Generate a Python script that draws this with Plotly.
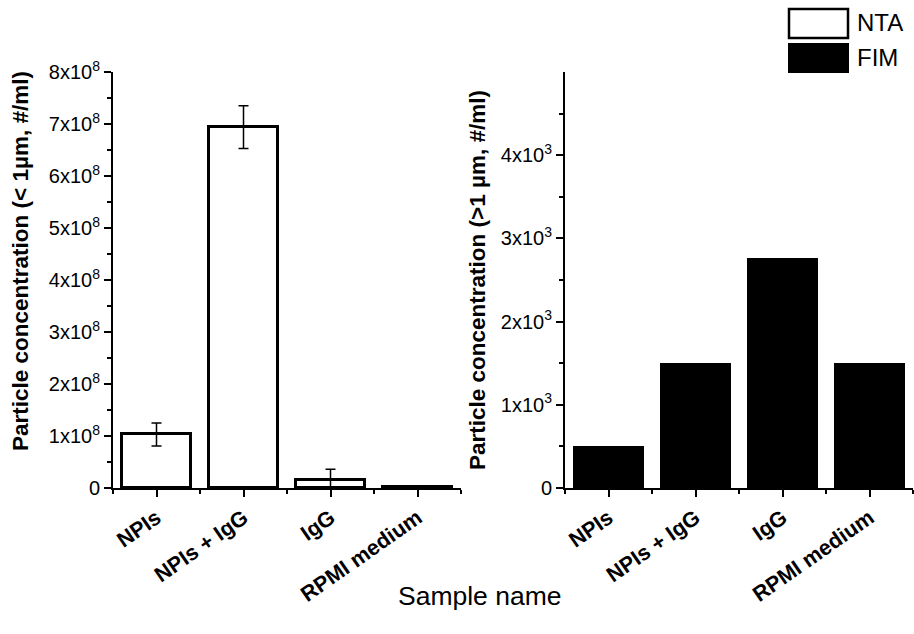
import plotly.graph_objects as go

categories = ["NPIs", "NPIs + IgG", "IgG", "RPMI medium"]
nta_values = [1.03e8, 6.94e8, 0.16e8, 0.02e8]
nta_errors = [0.22e8, 0.41e8, 0.20e8, 0.005e8]
fim_values = [500, 1500, 2770, 1500]

left_tickvals = [0, 1e8, 2e8, 3e8, 4e8, 5e8, 6e8, 7e8, 8e8]
left_ticktext = ["0"] + [f"{i}x10<sup>8</sup>" for i in range(1, 9)]
right_tickvals = [0, 1000, 2000, 3000, 4000]
right_ticktext = ["0"] + [f"{i}x10<sup>3</sup>" for i in range(1, 5)]

FONT = "Liberation Sans, Arial, sans-serif"
W, H = 914, 634
xpos = list(range(len(categories)))

fig = go.Figure()
fig.add_trace(go.Bar(
    x=xpos, y=nta_values, width=0.8, xaxis="x", yaxis="y",
    marker=dict(color="white", line=dict(color="black", width=3)),
    error_y=dict(type="data", array=nta_errors, visible=True, color="black", thickness=1.5, width=5),
    showlegend=False, name="NTA"))
fig.add_trace(go.Bar(
    x=xpos, y=fim_values, width=0.81, xaxis="x2", yaxis="y2",
    marker=dict(color="black", line=dict(color="black", width=0)),
    showlegend=False, name="FIM"))

def xaxis_cfg(domain, anchor):
    return dict(domain=domain, anchor=anchor, range=[-0.5, 3.5], showgrid=False, zeroline=False,
                showline=True, linecolor="black", linewidth=2,
                tickmode="array", tickvals=xpos, ticktext=categories, tickangle=-35,
                ticks="outside", ticklen=7, tickwidth=2, tickcolor="black",
                tickfont=dict(family=FONT, size=21.5, color="black", weight="bold"),
                minor=dict(tickmode="array", tickvals=[-0.5, 0.5, 1.5, 2.5, 3.5], ticks="outside",
                           ticklen=4, tickwidth=2, tickcolor="black"),
                automargin=False)

def yaxis_cfg(domain, anchor, rng, tv, tt, minor_vals):
    return dict(domain=domain, anchor=anchor, range=rng, showgrid=False, zeroline=False,
                showline=True, linecolor="black", linewidth=2,
                tickmode="array", tickvals=tv, ticktext=tt,
                ticks="outside", ticklen=7, tickwidth=2, tickcolor="black",
                tickfont=dict(family=FONT, size=20, color="black"),
                minor=dict(tickmode="array", tickvals=minor_vals, ticks="outside",
                           ticklen=4, tickwidth=2, tickcolor="black"),
                automargin=False)

ydom = [(H - 488) / H, (H - 72) / H]
fig.update_layout(
    width=W, height=H, margin=dict(l=0, r=0, t=0, b=0),
    paper_bgcolor="white", plot_bgcolor="white", bargap=0,
    xaxis=xaxis_cfg([113 / W, 461 / W], "y"),
    yaxis=yaxis_cfg(ydom, "x", [0, 8e8], left_tickvals, left_ticktext,
                    [0.5e8 + i * 1e8 for i in range(8)]),
    xaxis2=xaxis_cfg([565 / W, 913 / W], "y2"),
    yaxis2=yaxis_cfg(ydom, "x2", [0, 5000], right_tickvals, right_ticktext,
                     [500, 1500, 2500, 3500, 4500]),
    font=dict(family=FONT, color="black"),
)

ann = []
ann.append(dict(text="<b>Particle concentration (< 1µm, #/ml)</b>", x=20 / W, y=(H - 261) / H,
                xref="paper", yref="paper", textangle=-90, showarrow=False,
                font=dict(family=FONT, size=22.5, color="black"), xanchor="center", yanchor="middle"))
ann.append(dict(text="<b>Particle concentration (>1 µm, #/ml)</b>", x=477 / W, y=(H - 280) / H,
                xref="paper", yref="paper", textangle=-90, showarrow=False,
                font=dict(family=FONT, size=22.5, color="black"), xanchor="center", yanchor="middle"))
ann.append(dict(text="Sample name", x=480 / W, y=(H - 596) / H, xref="paper", yref="paper",
                showarrow=False, font=dict(family=FONT, size=26.5, color="black"),
                xanchor="center", yanchor="middle"))
ann.append(dict(text="NTA", x=855 / W, y=(H - 23) / H, xref="paper", yref="paper",
                showarrow=False, font=dict(family=FONT, size=24, color="black"),
                xanchor="left", yanchor="middle"))
ann.append(dict(text="FIM", x=855 / W, y=(H - 58) / H, xref="paper", yref="paper",
                showarrow=False, font=dict(family=FONT, size=24, color="black"),
                xanchor="left", yanchor="middle"))
fig.update_layout(annotations=ann)

fig.add_shape(type="rect", xref="paper", yref="paper", x0=789 / W, x1=848 / W,
              y0=(H - 38) / H, y1=(H - 9) / H, line=dict(color="black", width=2.5), fillcolor="white")
fig.add_shape(type="rect", xref="paper", yref="paper", x0=788 / W, x1=849 / W,
              y0=(H - 73) / H, y1=(H - 43) / H, line=dict(color="black", width=0), fillcolor="black")

fig.write_html("out.html", config={"displayModeBar": False},
               post_script="document.body.style.margin='0px';")
